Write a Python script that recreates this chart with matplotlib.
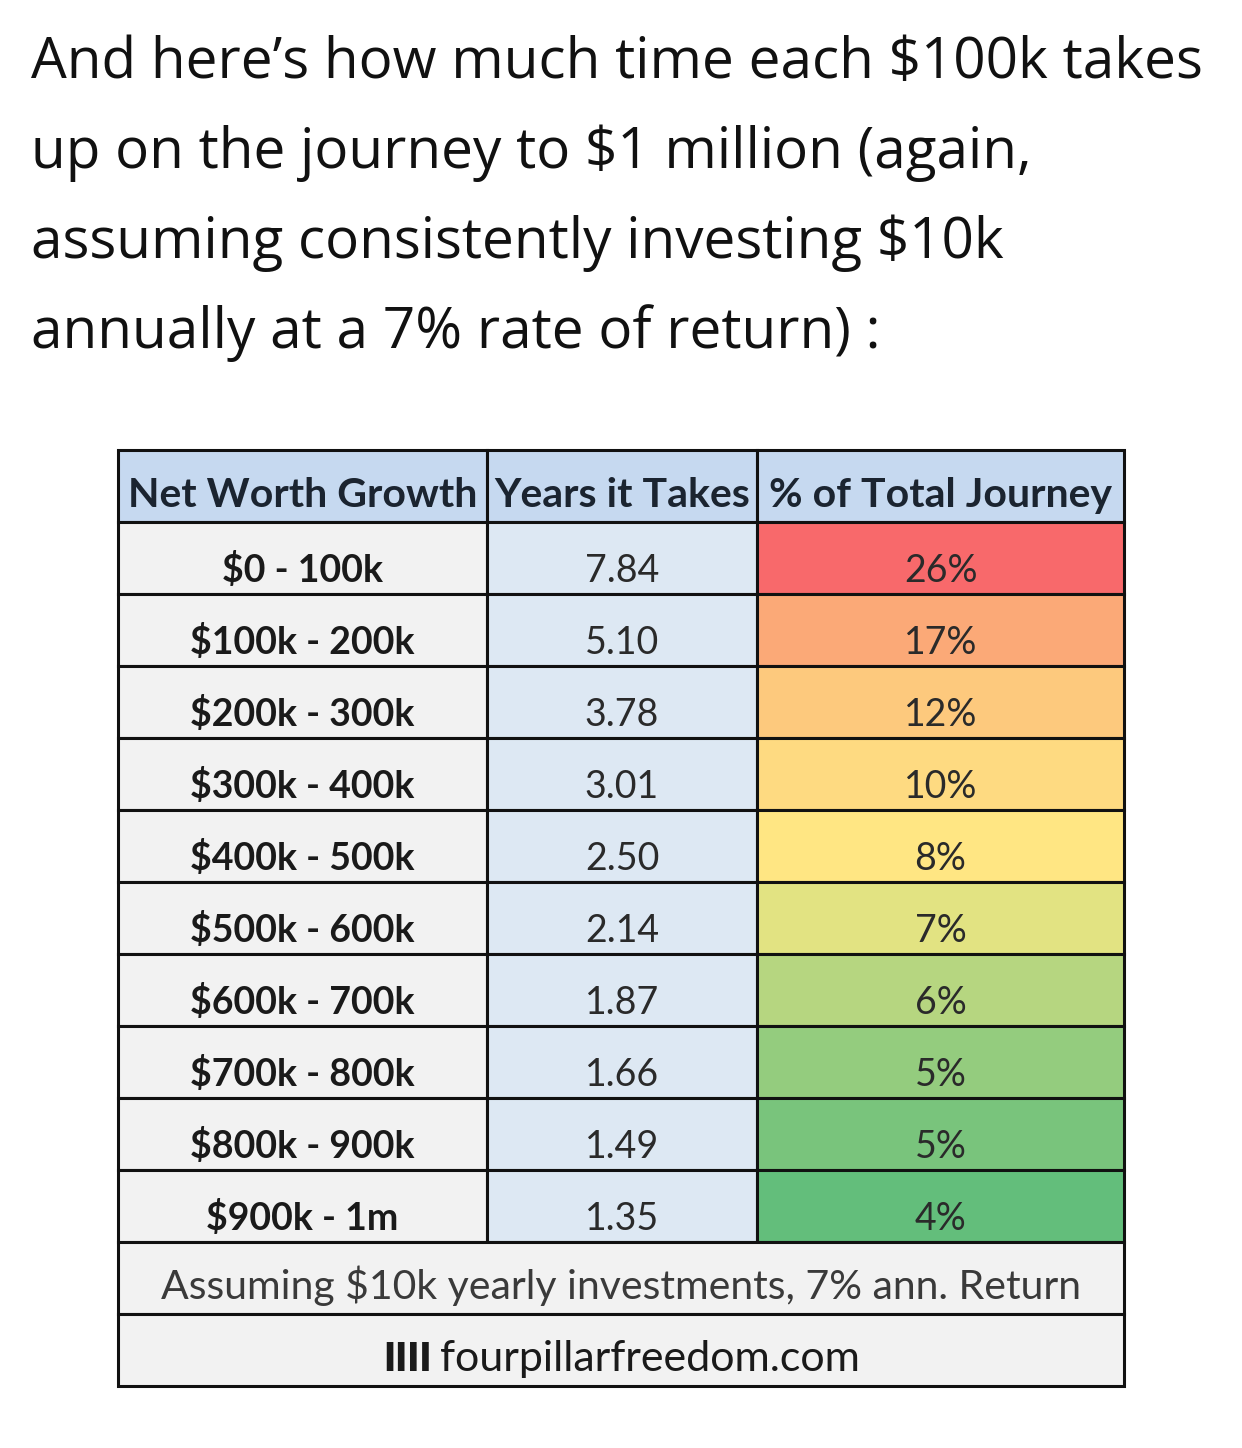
import matplotlib
matplotlib.use("Agg")
import matplotlib.pyplot as plt
from matplotlib.patches import Rectangle
from matplotlib.colors import LinearSegmentedColormap, TwoSlopeNorm
import numpy as np

# ---- data ----
title_lines = [
    "And here\u2019s how much time each $100k takes",
    "up on the journey to $1 million (again,",
    "assuming consistently investing $10k",
    "annually at a 7% rate of return) :",
]
headers = ["Net Worth Growth", "Years it Takes", "% of Total Journey"]
ranges = ["$0 - 100k", "$100k - 200k", "$200k - 300k", "$300k - 400k", "$400k - 500k",
          "$500k - 600k", "$600k - 700k", "$700k - 800k", "$800k - 900k", "$900k - 1m"]
years = [7.84, 5.10, 3.78, 3.01, 2.50, 2.14, 1.87, 1.66, 1.49, 1.35]
pct_labels = ["26%", "17%", "12%", "10%", "8%", "7%", "6%", "5%", "5%", "4%"]
footer_note = "Assuming $10k yearly investments, 7% ann. Return"
footer_site = "fourpillarfreedom.com"

# ---- layout (pixels) ----
W, H = 1242, 1448
col_edges = [118, 487, 757, 1124]
table_top = 450
row_h = 72

fig = plt.figure(figsize=(W / 100, H / 100), dpi=100)
ax = fig.add_axes([0, 0, 1, 1])
ax.set_xlim(0, W)
ax.set_ylim(H, 0)
ax.axis("off")

# Title
for i, line in enumerate(title_lines):
    ax.text(31, 78 + i * 90, line, fontsize=40.8, family="Open Sans",
            color="#111111", ha="left", va="baseline")

# Excel-like 3-colour scale (red-yellow-green), midpoint at median
cmap = LinearSegmentedColormap.from_list("excel", ["#63BE7B", "#FFEB84", "#F8696B"])
norm = TwoSlopeNorm(vmin=min(years), vcenter=float(np.median(years)), vmax=max(years))

tfont = "Lato"
txt_col = "#1a1a1a"
lw = 2.2

def cell(x0, x1, y0, y1, fc):
    ax.add_patch(Rectangle((x0, y0), x1 - x0, y1 - y0, facecolor=fc,
                           edgecolor="#111111", linewidth=lw, zorder=1))

# header
for j, h in enumerate(headers):
    cell(col_edges[j], col_edges[j + 1], table_top, table_top + row_h, "#c6d9f0")
    ax.text((col_edges[j] + col_edges[j + 1]) / 2, table_top + 57, h,
            fontsize=29.5, family=tfont, weight="bold", color="#1b2430",
            ha="center", va="baseline", zorder=3)

# body rows
for i, (r, y, p) in enumerate(zip(ranges, years, pct_labels)):
    y0 = table_top + row_h * (i + 1)
    y1 = y0 + row_h
    cell(col_edges[0], col_edges[1], y0, y1, "#f2f2f2")
    cell(col_edges[1], col_edges[2], y0, y1, "#dde8f3")
    cell(col_edges[2], col_edges[3], y0, y1, cmap(norm(y)))
    base = y0 + 60
    ax.text((col_edges[0] + col_edges[1]) / 2, base, r, fontsize=27, family=tfont,
            weight="bold", color=txt_col, ha="center", va="baseline", zorder=3)
    ax.text((col_edges[1] + col_edges[2]) / 2, base, f"{y:.2f}", fontsize=27,
            family=tfont, color="#2a2a2a", ha="center", va="baseline", zorder=3)
    ax.text((col_edges[2] + col_edges[3]) / 2, base, p, fontsize=27,
            family=tfont, color="#2a2a2a", ha="center", va="baseline", zorder=3)

# footer rows
n = len(ranges)
fy0 = table_top + row_h * (n + 1)
cell(col_edges[0], col_edges[3], fy0, fy0 + row_h, "#f2f2f2")
cell(col_edges[0], col_edges[3], fy0 + row_h, fy0 + 2 * row_h, "#f2f2f2")
xc = (col_edges[0] + col_edges[3]) / 2
ax.text(xc, fy0 + 57, footer_note, fontsize=29.5, family=tfont, color="#3a3a3a",
        ha="center", va="baseline", zorder=3)
ax.text(440, fy0 + row_h + 57, footer_site, fontsize=31, family=tfont,
        color="#1a1a1a", ha="left", va="baseline", zorder=3)
ax.text(432, fy0 + row_h + 57, "IIII", fontsize=28, family=tfont,
        weight="heavy", color="#1a1a1a", ha="right", va="baseline", zorder=3)

fig.savefig("out.png", dpi=100, facecolor="white")
